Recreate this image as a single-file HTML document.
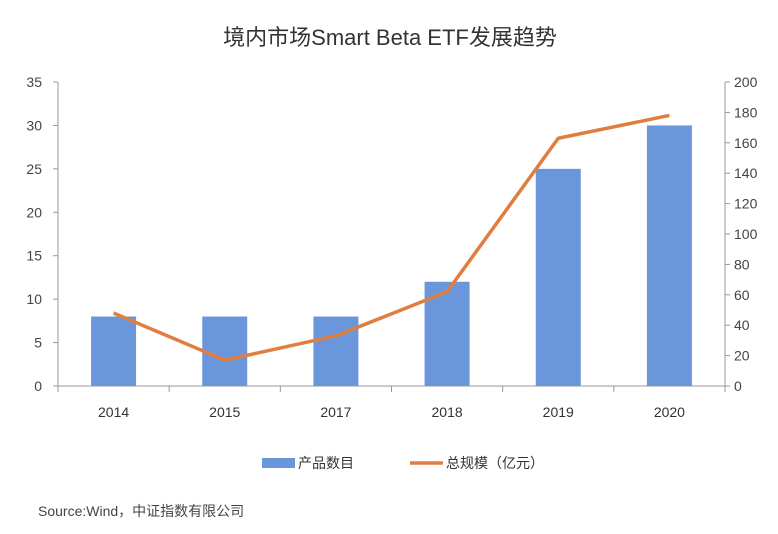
<!DOCTYPE html>
<html><head><meta charset="utf-8"><style>
html,body{margin:0;padding:0;background:#fff;}
body{width:778px;height:529px;overflow:hidden;font-family:"Liberation Sans","Noto Sans CJK SC",sans-serif;}
</style></head><body>
<svg id="chart" width="778" height="529" xmlns="http://www.w3.org/2000/svg" font-family="Liberation Sans, Noto Sans CJK SC, sans-serif">
<text x="390" y="45" text-anchor="middle" font-size="22" fill="#333">境内市场Smart Beta ETF发展趋势</text>
<g id="axes"></g><g id="bars"></g><g id="line"></g>
<g>
<rect x="262" y="458" width="33" height="10" fill="#6a97dc"/>
<text x="298" y="468" font-size="14" fill="#333">产品数目</text>
<line x1="410" y1="463" x2="443" y2="463" stroke="#e07e3f" stroke-width="3.5"/>
<text x="446" y="468" font-size="14" fill="#333">总规模（亿元）</text>
</g>
<text x="38" y="516" font-size="14" fill="#444">Source:Wind，中证指数有限公司</text>
</svg>
<script>
const categories=["2014","2015","2017","2018","2019","2020"];
const counts=[8,8,8,12,25,30];
const scale=[48,17,33,62,163,178];
const leftTicks=[0,5,10,15,20,25,30,35];
const rightTicks=[0,20,40,60,80,100,120,140,160,180,200];
const NS="http://www.w3.org/2000/svg";
const x0=58,x1=725,yB=386,yT=82;
const bw=(x1-x0)/categories.length;
const yL=v=>yB-v/35*(yB-yT);
const yR=v=>yB-v/200*(yB-yT);
const xc=i=>x0+bw*(i+0.5);
function mk(tag,attrs,parent){const e=document.createElementNS(NS,tag);for(const k in attrs)e.setAttribute(k,attrs[k]);document.getElementById(parent).appendChild(e);return e;}
let a=mk('line',{x1:x0,x2:x0,y1:yT,y2:yB,stroke:'#999'},'axes');


a=mk('line',{x1:x1,x2:x1,y1:yT,y2:yB,stroke:'#999'},'axes');


a=mk('line',{x1:x0,x2:x1,y1:yB,y2:yB,stroke:'#999'},'axes');


leftTicks.forEach(v=>{const y=yL(v);
 const t=mk('line',{x1:x0-5,x2:x0,y1:y,y2:y,stroke:'#999'},'axes');
 
 
 const l=mk('text',{x:x0-16,y:y+5,'text-anchor':'end','font-size':14,fill:'#444'},'axes');l.textContent=v;
 
 });
rightTicks.forEach(v=>{const y=yR(v);
 const t=mk('line',{x1:x1,x2:x1+5,y1:y,y2:y,stroke:'#999'},'axes');
 
 
 const l=mk('text',{x:x1+9,y:y+5,'font-size':14,fill:'#444'},'axes');l.textContent=v;
 
 });
for(let i=0;i<=categories.length;i++){const x=x0+bw*i;
 const t=mk('line',{x1:x,x2:x,y1:yB,y2:yB+6,stroke:'#999'},'axes');
 
 }
categories.forEach((c,i)=>{
 const l=mk('text',{x:xc(i),y:yB+31,'text-anchor':'middle','font-size':14,fill:'#333'},'axes');l.textContent=c;
 
 
 const b=mk('rect',{x:xc(i)-22.5,y:yL(counts[i]),width:45,height:yB-yL(counts[i]),fill:'#6a97dc'},'bars');
 
 });
const p=mk('polyline',{points:scale.map((v,i)=>xc(i)+','+yR(v)).join(' '),fill:'none',stroke:'#e07e3f','stroke-width':3.5,'stroke-linejoin':'round'},'line');


</script>
</body></html>
